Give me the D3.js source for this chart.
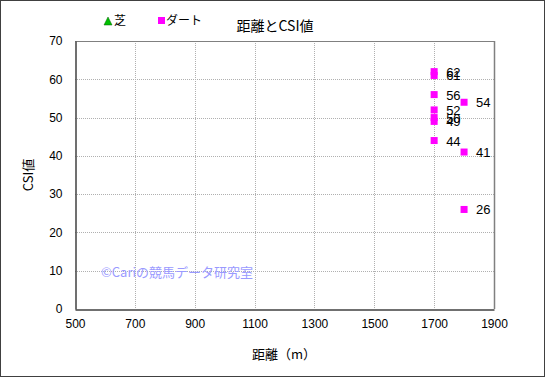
<!DOCTYPE html>
<html>
<head>
<meta charset="utf-8">
<script src="https://cdn.jsdelivr.net/npm/d3@7"></script>
<style>
  html, body { margin: 0; padding: 0; background: #fff; }
  svg text { font-family: "Liberation Sans", "Noto Sans CJK JP", sans-serif; fill: #000; }
  .jp { font-family: "Noto Sans CJK JP", sans-serif; }
</style>
</head>
<body>
<svg id="chart" width="545" height="377"></svg>
<script>
const title = "距離とCSI値";
const xLabel = "距離（m）";
const yLabel = "CSI値";
const xTicks = [500, 700, 900, 1100, 1300, 1500, 1700, 1900];
const yTicks = [0, 10, 20, 30, 40, 50, 60, 70];

// 芝 has no points in this chart
const turfDist = [];
const turfCsi = [];

const dirtDist = [1700, 1700, 1700, 1700, 1700, 1700, 1700, 1800, 1800, 1800];
const dirtCsi  = [62, 61, 56, 52, 50, 49, 44, 54, 41, 26];

const svg = d3.select("#chart");
const width = 545, height = 377;
const margin = { top: 41, right: 51, bottom: 68, left: 75 };

// outer frame
svg.append("rect")
  .attr("x", 0.5).attr("y", 0.5)
  .attr("width", width - 1).attr("height", height - 1)
  .attr("fill", "#fff").attr("stroke", "#404040").attr("stroke-width", 1);

const x = d3.scaleLinear().domain([500, 1900]).range([margin.left, width - margin.right]);
const y = d3.scaleLinear().domain([0, 70]).range([height - margin.bottom, margin.top]);

// grid
svg.append("g")
  .selectAll("line")
  .data(xTicks.slice(1, -1))
  .join("line")
  .attr("x1", d => Math.round(x(d)) + 0.5).attr("x2", d => Math.round(x(d)) + 0.5)
  .attr("y1", y(70)).attr("y2", y(0))
  .attr("stroke", "#b0b0b0").attr("stroke-dasharray", "1,1");

svg.append("g")
  .selectAll("line")
  .data(yTicks.slice(1, -1))
  .join("line")
  .attr("x1", x(500)).attr("x2", x(1900))
  .attr("y1", d => Math.round(y(d)) + 0.5).attr("y2", d => Math.round(y(d)) + 0.5)
  .attr("stroke", "#b0b0b0").attr("stroke-dasharray", "1,1");

// plot border: top/right gray, left/bottom dark
svg.append("line")
  .attr("x1", x(500)).attr("x2", x(1900))
  .attr("y1", y(70) + 0.5).attr("y2", y(70) + 0.5)
  .attr("stroke", "#808080");
svg.append("line")
  .attr("x1", x(1900) + 0.5).attr("x2", x(1900) + 0.5)
  .attr("y1", y(70)).attr("y2", y(0))
  .attr("stroke", "#808080").attr("stroke-width", 1.5);

const xAxis = svg.append("g")
  .attr("transform", `translate(0,${y(0) + 0.5})`)
  .call(d3.axisBottom(x).tickValues(xTicks).tickFormat(d3.format("d")).tickSize(0).tickPadding(10));
xAxis.select(".domain").attr("stroke", "#404040").attr("stroke-width", 1.5);
xAxis.selectAll("text").style("font-size", "12px").attr("fill", "#000");

const yAxis = svg.append("g")
  .attr("transform", `translate(${x(500) + 0.5},0)`)
  .call(d3.axisLeft(y).tickValues(yTicks).tickFormat(d3.format("d")).tickSize(0).tickPadding(13));
yAxis.select(".domain").attr("stroke", "#404040").attr("stroke-width", 1.5);
yAxis.selectAll("text").style("font-size", "12px").attr("fill", "#000");

// dirt markers + labels
const dirt = dirtDist.map((d, i) => ({ dist: d, csi: dirtCsi[i] }));
svg.append("g")
  .selectAll("rect")
  .data(dirt)
  .join("rect")
  .attr("x", d => x(d.dist) - 3.5)
  .attr("y", d => y(d.csi) - 3.5)
  .attr("width", 7).attr("height", 7)
  .attr("fill", "#ff00ff");

svg.append("g")
  .selectAll("text")
  .data(dirt)
  .join("text")
  .attr("x", d => x(d.dist) + 12)
  .attr("y", d => y(d.csi) + 5)
  .style("font-size", "13px")
  .text(d => d.csi);

// turf markers (none)
svg.append("g")
  .selectAll("path")
  .data(turfDist.map((d, i) => ({ dist: d, csi: turfCsi[i] })))
  .join("path")
  .attr("d", d3.symbol(d3.symbolTriangle, 40))
  .attr("transform", d => `translate(${x(d.dist)},${y(d.csi)})`)
  .attr("fill", "#00cc00");

// legend
svg.append("path")
  .attr("d", "M104,25 L108,17 L112,25 Z")
  .attr("fill", "#00c000").attr("stroke", "#006000").attr("stroke-width", 0.5);
svg.append("text").attr("class", "jp")
  .attr("x", 114).attr("y", 25)
  .style("font-size", "12px").attr("fill", "#444")
  .text("芝");
svg.append("rect")
  .attr("x", 158).attr("y", 17).attr("width", 7).attr("height", 7)
  .attr("fill", "#ff00ff");
svg.append("text").attr("class", "jp")
  .attr("x", 166).attr("y", 25)
  .style("font-size", "12px").attr("fill", "#444")
  .text("ダート");

// title
svg.append("text").attr("class", "jp")
  .attr("x", 275).attr("y", 31)
  .attr("text-anchor", "middle")
  .style("font-size", "14px")
  .text(title);

// watermark
svg.append("text").attr("class", "jp")
  .attr("x", 101).attr("y", 277)
  .style("font-size", "13px")
  .style("fill", "#9a9aff")
  .text("©Cariの競馬データ研究室");

// axis labels
svg.append("text").attr("class", "jp")
  .attr("x", 284).attr("y", 359)
  .attr("text-anchor", "middle")
  .style("font-size", "13px")
  .text(xLabel);

svg.append("text").attr("class", "jp")
  .attr("transform", `translate(33,${(y(0) + y(70)) / 2}) rotate(-90)`)
  .attr("text-anchor", "middle")
  .style("font-size", "13px")
  .text(yLabel);
</script>
</body>
</html>
